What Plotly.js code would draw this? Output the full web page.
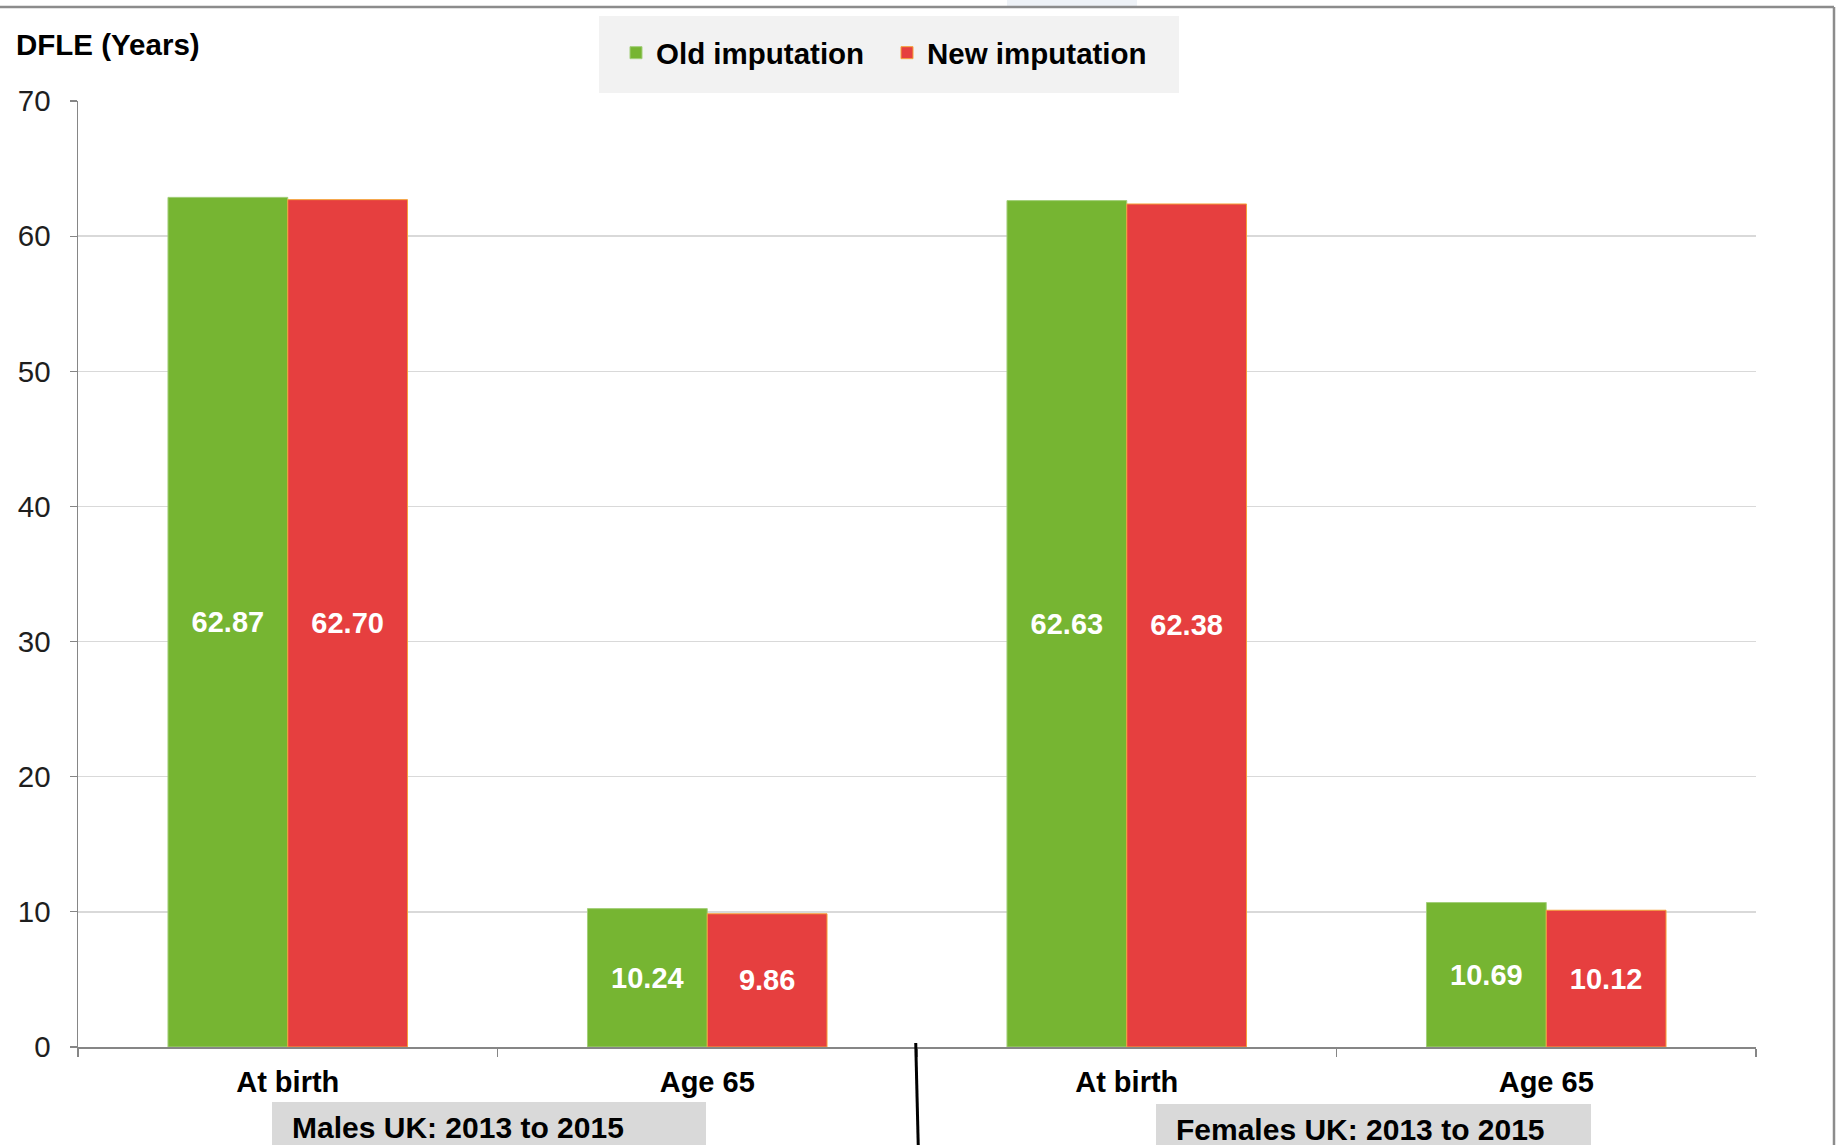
<!DOCTYPE html>
<html>
<head>
<meta charset="utf-8">
<script src="https://cdn.plot.ly/plotly-3.0.1.min.js"></script>
<style>
  html, body { margin: 0; padding: 0; background: #ffffff; }
  #chart { width: 1841px; height: 1145px; }
</style>
</head>
<body>
<div id="chart"></div>
<script>
// ---- Data ----
const categories = ["At birth", "Age 65", "At birth", "Age 65"];
const groups = ["Males UK: 2013 to 2015", "Males UK: 2013 to 2015", "Females UK: 2013 to 2015", "Females UK: 2013 to 2015"];
const oldImputation = [62.87, 10.24, 62.63, 10.69];
const newImputation = [62.70, 9.86, 62.38, 10.12];
const seriesNames = ["Old imputation", "New imputation"];
const yTitle = "DFLE (Years)";
const groupLabels = ["Males UK: 2013 to 2015", "Females UK: 2013 to 2015"];

// unique keys for the category axis
const keys = categories.map((c, i) => groups[i] + " | " + c);

// ---- Layout helpers (pixel -> paper) ----
const W = 1841, H = 1145;
const M = { l: 78, r: 85, t: 101, b: 98 };
const PW = W - M.l - M.r, PH = H - M.t - M.b;
const px = x => (x - M.l) / PW;
const py = y => (H - M.b - y) / PH;

const FONT = "Liberation Sans, Arial, Helvetica, sans-serif";
const GREEN = "#76b532";
const RED = "#e63f3f";

const traces = [
  {
    type: "bar", name: seriesNames[0], x: keys, y: oldImputation,
    marker: { color: GREEN, line: { color: "#a3cf7a", width: 1 } },
    texttemplate: "%{y:.2f}", textposition: "inside", insidetextanchor: "middle",
    textangle: 0, constraintext: "none",
    textfont: { family: FONT, size: 29, color: "#ffffff", weight: "bold" },
    hoverinfo: "skip"
  },
  {
    type: "bar", name: seriesNames[1], x: keys, y: newImputation,
    marker: { color: RED, line: { color: "#f5a23a", width: 1 } },
    texttemplate: "%{y:.2f}", textposition: "inside", insidetextanchor: "middle",
    textangle: 0, constraintext: "none",
    textfont: { family: FONT, size: 29, color: "#ffffff", weight: "bold" },
    hoverinfo: "skip"
  }
];

const shapes = [
  // legend background
  { type: "rect", xref: "paper", yref: "paper", x0: px(599), x1: px(1179), y0: py(93), y1: py(16),
    fillcolor: "#f2f2f2", line: { width: 0 }, layer: "below" },
  // faint artifact at top
  { type: "rect", xref: "paper", yref: "paper", x0: px(1007), x1: px(1137), y0: py(6), y1: py(0),
    fillcolor: "#eef2f7", line: { width: 0 }, layer: "below" },
  // outer frame (top and right)
  { type: "line", xref: "paper", yref: "paper", x0: px(0), x1: px(1834), y0: py(7), y1: py(7),
    line: { color: "#8c8c8c", width: 2.5 } },
  { type: "line", xref: "paper", yref: "paper", x0: px(1834), x1: px(1834), y0: py(7), y1: py(1145),
    line: { color: "#8c8c8c", width: 2.5 } },
  // group label boxes
  { type: "rect", xref: "paper", yref: "paper", x0: px(272), x1: px(706), y0: py(1146), y1: py(1102),
    fillcolor: "#d9d9d9", line: { width: 0 } },
  { type: "rect", xref: "paper", yref: "paper", x0: px(1156), x1: px(1591), y0: py(1146), y1: py(1104),
    fillcolor: "#d9d9d9", line: { width: 0 } },
  // group divider
  { type: "line", xref: "x", yref: "paper", x0: 1.497, x1: 1.503, y0: py(1043), y1: py(1146),
    line: { color: "#000000", width: 3 } }
];

const annotations = [
  { xref: "paper", yref: "paper", x: px(14), y: py(45), xanchor: "left", yanchor: "middle",
    text: "<b>DFLE</b> <b>(Years)</b>", showarrow: false,
    font: { family: FONT, size: 29.5, color: "#000000" } },
  { xref: "paper", yref: "paper", x: px(290), y: py(1127), xanchor: "left", yanchor: "middle",
    text: groupLabels[0], showarrow: false,
    font: { family: FONT, size: 30, color: "#000000", weight: "bold" } },
  { xref: "paper", yref: "paper", x: px(1174), y: py(1129), xanchor: "left", yanchor: "middle",
    text: groupLabels[1], showarrow: false,
    font: { family: FONT, size: 30, color: "#000000", weight: "bold" } }
];

const layout = {
  width: W, height: H,
  margin: { l: M.l, r: M.r, t: M.t, b: M.b, pad: 0 },
  paper_bgcolor: "#ffffff", plot_bgcolor: "#ffffff",
  font: { family: FONT, color: "#000000" },
  barmode: "group", bargap: 0.429, bargroupgap: 0,
  showlegend: true,
  legend: {
    orientation: "h", x: px(616), xanchor: "left", y: py(53), yanchor: "middle",
    bgcolor: "rgba(0,0,0,0)", borderwidth: 0,
    font: { family: FONT, size: 29.5, color: "#000000", weight: "bold" },
    entrywidth: 226, entrywidthmode: "pixels", itemwidth: 30, traceorder: "normal",
    itemclick: false, itemdoubleclick: false
  },
  xaxis: {
    type: "category", categoryorder: "array", categoryarray: keys,
    tickmode: "array", tickvals: keys, ticktext: categories,
    tickson: "boundaries", ticks: "outside", ticklen: 8, tickwidth: 1.2, tickcolor: "#868686",
    showline: true, linecolor: "#868686", linewidth: 1.5,
    showgrid: false, zeroline: false, fixedrange: true,
    ticklabelstandoff: 9,
    tickfont: { family: FONT, size: 29, color: "#000000", weight: "bold" }
  },
  yaxis: {
    range: [0, 70], dtick: 10, tick0: 0,
    ticks: "outside", ticklen: 7, tickwidth: 1.2, tickcolor: "#868686",
    showline: true, linecolor: "#868686", linewidth: 1.5,
    showgrid: true, gridcolor: "#d9d9d9", gridwidth: 1.5, zeroline: false, fixedrange: true,
    ticklabelstandoff: 13,
    tickfont: { family: FONT, size: 29.5, color: "#1e1e1e" }
  },
  shapes: shapes,
  annotations: annotations
};

Plotly.newPlot("chart", traces, layout, { staticPlot: true, displayModeBar: false });
</script>
</body>
</html>
